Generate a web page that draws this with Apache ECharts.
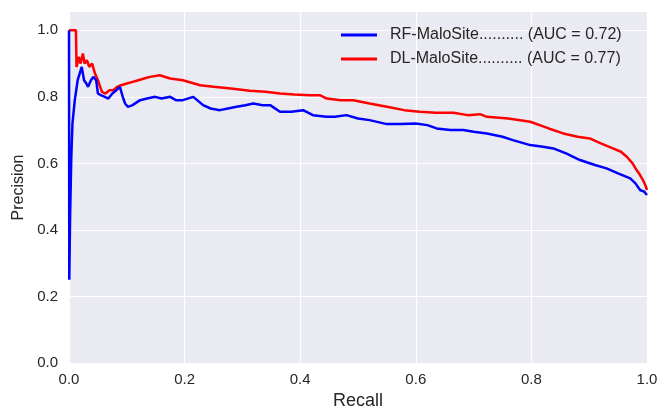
<!DOCTYPE html>
<html>
<head>
<meta charset="utf-8">
<script src="https://cdn.jsdelivr.net/npm/echarts@6/dist/echarts.min.js"></script>
<style>
  html, body { margin: 0; padding: 0; background: #fff; }
  #chart { width: 659px; height: 408px; }
</style>
</head>
<body>
<div id="chart"></div>
<script>
// precision-recall curves
const rfRecall = [0, 0.0005, 0.002, 0.004, 0.006, 0.01, 0.015, 0.022, 0.026, 0.03, 0.033, 0.038, 0.042, 0.047, 0.05, 0.055, 0.062, 0.068, 0.075, 0.082, 0.088, 0.093, 0.097, 0.102, 0.11, 0.123, 0.135, 0.149, 0.16, 0.175, 0.185, 0.197, 0.215, 0.232, 0.245, 0.261, 0.275, 0.29, 0.305, 0.319, 0.335, 0.348, 0.365, 0.385, 0.405, 0.422, 0.446, 0.46, 0.48, 0.5, 0.52, 0.55, 0.575, 0.6, 0.62, 0.636, 0.66, 0.682, 0.7, 0.723, 0.75, 0.768, 0.798, 0.82, 0.838, 0.86, 0.884, 0.91, 0.93, 0.95, 0.971, 0.98, 0.988, 0.995, 1.0];
const rfPrecision = [1.0, 0.25, 0.45, 0.62, 0.72, 0.79, 0.85, 0.89, 0.85, 0.84, 0.83, 0.85, 0.86, 0.85, 0.81, 0.805, 0.8, 0.795, 0.81, 0.82, 0.83, 0.8, 0.78, 0.77, 0.775, 0.79, 0.795, 0.8, 0.795, 0.8, 0.79, 0.79, 0.8, 0.775, 0.765, 0.76, 0.765, 0.77, 0.775, 0.78, 0.775, 0.775, 0.755, 0.755, 0.76, 0.745, 0.74, 0.74, 0.745, 0.735, 0.73, 0.718, 0.718, 0.72, 0.715, 0.705, 0.7, 0.7, 0.695, 0.69, 0.68, 0.67, 0.655, 0.65, 0.645, 0.63, 0.61, 0.595, 0.585, 0.57, 0.555, 0.54, 0.52, 0.515, 0.505];

const dlRecall = [0, 0.012, 0.013, 0.017, 0.02, 0.024, 0.027, 0.031, 0.035, 0.04, 0.045, 0.05, 0.057, 0.063, 0.07, 0.077, 0.083, 0.09, 0.1, 0.11, 0.12, 0.13, 0.14, 0.157, 0.175, 0.197, 0.227, 0.25, 0.28, 0.313, 0.34, 0.365, 0.39, 0.417, 0.434, 0.446, 0.47, 0.492, 0.52, 0.55, 0.58, 0.607, 0.635, 0.665, 0.69, 0.711, 0.723, 0.76, 0.798, 0.83, 0.855, 0.88, 0.901, 0.92, 0.941, 0.955, 0.965, 0.975, 0.982, 0.988, 0.993, 0.997, 1.0];
const dlPrecision = [1.0, 1.0, 0.89, 0.92, 0.9, 0.93, 0.9, 0.91, 0.89, 0.9, 0.87, 0.85, 0.815, 0.81, 0.82, 0.82, 0.83, 0.835, 0.84, 0.845, 0.85, 0.855, 0.86, 0.865, 0.855, 0.85, 0.835, 0.83, 0.825, 0.818, 0.815, 0.81, 0.807, 0.805, 0.805, 0.795, 0.79, 0.79, 0.78, 0.77, 0.76, 0.755, 0.752, 0.752, 0.745, 0.748, 0.74, 0.735, 0.725, 0.705, 0.69, 0.68, 0.675, 0.66, 0.645, 0.635, 0.62, 0.6, 0.58, 0.565, 0.55, 0.535, 0.52];

const rfName = 'RF-MaloSite.......... (AUC = 0.72)';
const dlName = 'DL-MaloSite.......... (AUC = 0.77)';

const zip = (xs, ys) => xs.map((x, i) => [x, ys[i]]);

const FONT = 'Liberation Sans, Arial, sans-serif';
const tickFont = { fontFamily: FONT, fontSize: 15, color: '#262626' };

const chart = echarts.init(document.getElementById('chart'));
chart.setOption({
  animation: false,
  grid: {
    show: true,
    left: 69,
    right: 12,
    top: 12,
    bottom: 45,
    outerBoundsMode: 'none',
    backgroundColor: '#EAEAF2',
    borderWidth: 0,
  },
  legend: {
    orient: 'vertical',
    left: 336,
    top: 22,
    icon: 'rect',
    itemWidth: 36,
    itemHeight: 3,
    itemGap: 8,
    textStyle: { fontFamily: FONT, fontSize: 16, color: '#262626', padding: [0, 0, 0, 8] },
    data: [rfName, dlName],
  },
  xAxis: {
    type: 'value',
    min: 0,
    max: 1,
    interval: 0.2,
    name: 'Recall',
    nameLocation: 'middle',
    nameGap: 28,
    nameTextStyle: { fontFamily: FONT, fontSize: 18, color: '#262626' },
    axisLine: { show: false },
    axisTick: { show: false },
    axisLabel: Object.assign({ margin: 9, formatter: (v) => v.toFixed(1) }, tickFont),
    splitLine: { show: true, lineStyle: { color: '#fff', width: 1.2 } },
  },
  yAxis: {
    type: 'value',
    min: 0,
    max: 1.055,
    interval: 0.2,
    name: 'Precision',
    nameLocation: 'middle',
    nameGap: 38,
    nameTextStyle: { fontFamily: FONT, fontSize: 16, color: '#262626' },
    axisLine: { show: false },
    axisTick: { show: false },
    axisLabel: Object.assign({
      margin: 11,
      showMaxLabel: false,
      formatter: (v) => (Math.abs(v * 5 - Math.round(v * 5)) < 1e-6 ? v.toFixed(1) : ''),
    }, tickFont),
    splitLine: {
      show: true,
      lineStyle: { color: ['#fff', '#fff', '#fff', '#fff', '#fff', '#fff', '#EAEAF2'], width: 1.2 },
    },
  },
  series: [
    {
      name: rfName,
      type: 'line',
      showSymbol: false,
      data: zip(rfRecall, rfPrecision),
      lineStyle: { color: '#0000FF', width: 2.5 },
      itemStyle: { color: '#0000FF' },
      z: 3,
    },
    {
      name: dlName,
      type: 'line',
      showSymbol: false,
      data: zip(dlRecall, dlPrecision),
      lineStyle: { color: '#FF0000', width: 2.5 },
      itemStyle: { color: '#FF0000' },
      z: 2,
    },
  ],
});
</script>
</body>
</html>
